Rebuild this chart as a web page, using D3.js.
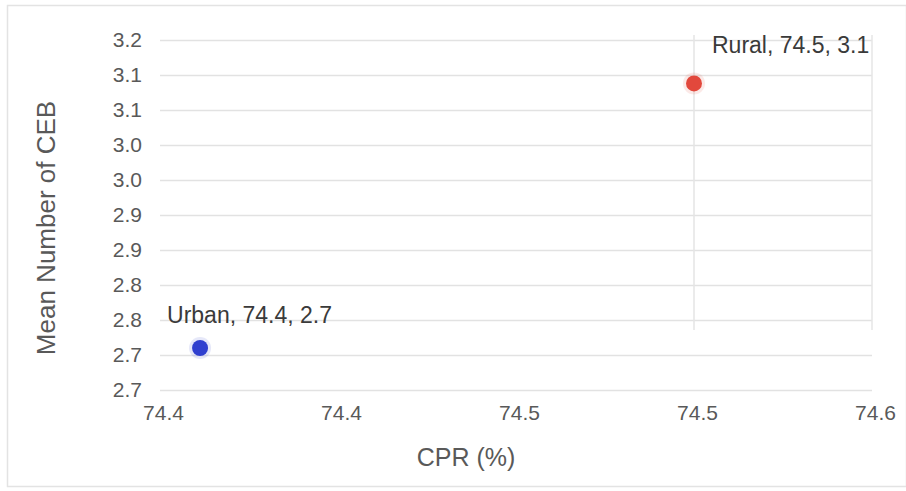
<!DOCTYPE html>
<html>
<head>
<meta charset="utf-8">
<script src="https://cdn.jsdelivr.net/npm/d3@7"></script>
<style>
  html, body { margin: 0; padding: 0; background: #fff; }
  svg { display: block; font-family: "Liberation Sans", Arial, sans-serif; }
</style>
</head>
<body>
<svg id="chart" width="906" height="491"></svg>
<script>
// Place of residence vs. contraceptive prevalence and children ever born
const groups    = ["Rural", "Urban"];
const cprValues = [74.52, 74.409];    // CPR (%)
const cebValues = [3.138, 2.76];      // mean number of children ever born
const colors    = ["#e2483c", "#2f3fcf"];

const xTicks      = [74.40, 74.44, 74.48, 74.52, 74.56];
const xTickLabels = ["74.4", "74.4", "74.5", "74.5", "74.6"];
const yTicks      = [2.70, 2.75, 2.80, 2.85, 2.90, 2.95, 3.00, 3.05, 3.10, 3.15, 3.20];
const yTickLabels = ["2.7", "2.7", "2.8", "2.8", "2.9", "2.9", "3.0", "3.0", "3.1", "3.1", "3.2"];

const xTitle = "CPR (%)";
const yTitle = "Mean Number of CEB";

// one-decimal label that keeps the leading digit (no rounding up)
const fmt1 = v => (Math.floor(v * 10 + 1e-9) / 10).toFixed(1);

const svg = d3.select("#chart");
const W = 906, H = 491;
const plot = { left: 160, right: 872, top: 40, bottom: 390 };

const x = d3.scaleLinear().domain([74.40, 74.56]).range([plot.left, plot.right]);
const y = d3.scaleLinear().domain([2.70, 3.20]).range([plot.bottom, plot.top]);

// outer frame
svg.append("rect")
  .attr("x", 7.5).attr("y", 5.5)
  .attr("width", W - 7).attr("height", 481)
  .attr("fill", "none").attr("stroke", "#e3e3e3").attr("stroke-width", 1.5);

// horizontal gridlines with value labels
const yAxis = d3.axisLeft(y)
  .tickValues(yTicks)
  .tickSize(-(plot.right - plot.left))
  .tickPadding(18)
  .tickFormat((d, i) => yTickLabels[i]);

const gy = svg.append("g")
  .attr("transform", `translate(${plot.left},0)`)
  .call(yAxis);
gy.select(".domain").remove();
gy.selectAll(".tick line").attr("stroke", "#e2e2e2").attr("stroke-width", 1.5);
gy.selectAll(".tick text")
  .attr("fill", "#595959")
  .style("font-size", "21px");

// x axis: labels only
const xAxis = d3.axisBottom(x)
  .tickValues(xTicks)
  .tickSize(0)
  .tickPadding(15)
  .tickFormat((d, i) => xTickLabels[i]);

const gx = svg.append("g")
  .attr("transform", `translate(0,${plot.bottom})`)
  .call(xAxis);
gx.select(".domain").remove();
gx.selectAll(".tick text")
  .attr("fill", "#595959")
  .attr("dx", 3)
  .style("font-size", "21px");

// right plot edge
svg.append("line")
  .attr("x1", plot.right).attr("x2", plot.right)
  .attr("y1", plot.top - 5).attr("y2", plot.bottom - 60)
  .attr("stroke", "#e6e6e6").attr("stroke-width", 1.5);

// axis titles
svg.append("text")
  .attr("x", 466)
  .attr("y", 466)
  .attr("text-anchor", "middle")
  .attr("fill", "#595959")
  .style("font-size", "25px")
  .text(xTitle);

svg.append("text")
  .attr("transform", `translate(55,${(plot.top + plot.bottom) / 2 + 13}) rotate(-90)`)
  .attr("text-anchor", "middle")
  .attr("fill", "#595959")
  .style("font-size", "26px")
  .text(yTitle);

const points = groups.map((g, i) => ({ name: g, cpr: cprValues[i], ceb: cebValues[i], color: colors[i] }));

// drop line from the rural point
svg.append("line")
  .attr("x1", x(points[0].cpr)).attr("x2", x(points[0].cpr))
  .attr("y1", plot.top - 5).attr("y2", plot.bottom - 60)
  .attr("stroke", "#e4e4e4").attr("stroke-width", 1.5);

// soft halo + dots
svg.selectAll("circle.halo")
  .data(points).enter().append("circle")
  .attr("class", "halo")
  .attr("cx", d => x(d.cpr)).attr("cy", d => y(d.ceb))
  .attr("r", 11)
  .attr("fill", d => d.color)
  .attr("opacity", 0.12);

svg.selectAll("circle.dot")
  .data(points).enter().append("circle")
  .attr("class", "dot")
  .attr("cx", d => x(d.cpr)).attr("cy", d => y(d.ceb))
  .attr("r", 8)
  .attr("fill", d => d.color);

// data labels
const labelOffset = { Rural: [18, -30], Urban: [-33, -25] };
svg.selectAll("text.lbl")
  .data(points).enter().append("text")
  .attr("class", "lbl")
  .attr("x", d => x(d.cpr) + labelOffset[d.name][0])
  .attr("y", d => y(d.ceb) + labelOffset[d.name][1])
  .attr("fill", "#3a3a3a")
  .style("font-size", "23px")
  .text(d => `${d.name}, ${fmt1(d.cpr)}, ${fmt1(d.ceb)}`);
</script>
</body>
</html>
